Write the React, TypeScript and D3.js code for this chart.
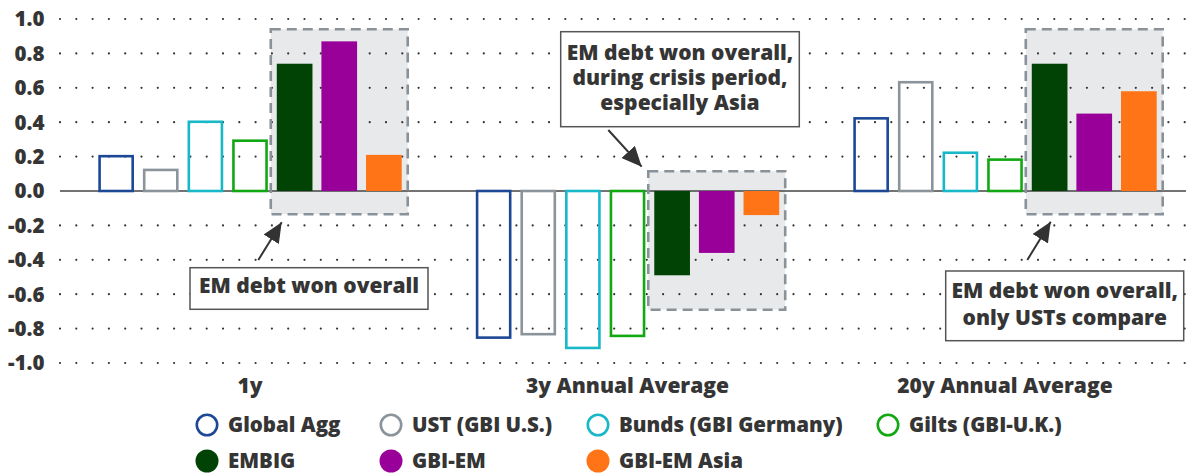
import * as d3 from "d3";

const categories = ["1y", "3y Annual Average", "20y Annual Average"];
const series = ["Global Agg", "UST (GBI U.S.)", "Bunds (GBI Germany)", "Gilts (GBI-U.K.)", "EMBIG", "GBI-EM", "GBI-EM Asia"];
const globalAgg = [0.21, -0.86, 0.43];
const ust = [0.13, -0.84, 0.64];
const bunds = [0.41, -0.92, 0.23];
const gilts = [0.3, -0.85, 0.19];
const embig = [0.74, -0.49, 0.74];
const gbiEm = [0.87, -0.36, 0.45];
const gbiEmAsia = [0.21, -0.14, 0.58];
const yTicks = [1.0, 0.8, 0.6, 0.4, 0.2, 0.0, -0.2, -0.4, -0.6, -0.8, -1.0];
// highlighted (dashed) boxes, in data units
const boxTop = [0.94, 0.115, 0.94];
const boxBottom = [-0.135, -0.69, -0.135];

const values = [globalAgg, ust, bunds, gilts, embig, gbiEm, gbiEmAsia];
const colors = ["#1c4896", "#8b949b", "#18b8c8", "#12a812", "#004305", "#990099", "#ff7416"];
const filled = [false, false, false, false, true, true, true];

const W = 1186;
const H = 476;
const FONT = "'Open Sans', 'Noto Sans', sans-serif";
const TXT = "#353535";

export default function App() {
  const y = d3.scaleLinear().domain([-1, 1]).range([363, 19]);
  const x = d3.scaleBand().domain(categories).range([61.25, 1193.75]).padding(0);
  const inner = d3.scaleBand().domain(series).range([0, x.bandwidth()]).paddingInner(0.2).paddingOuter(0.83);
  const bw = inner.bandwidth();
  const sw = 2.6;

  const annotations = [
    { box: [190, 267.7, 238, 41.6], lines: ["EM debt won overall"], base: [293.3], arrow: [258.3, 260, 281.7, 222.3] },
    { box: [560.7, 31.7, 238.6, 95], lines: ["EM debt won overall,", "during crisis period,", "especially Asia"], base: [60, 85, 110], arrow: [608.3, 130, 641.7, 166.7] },
    { box: [945.7, 271, 238, 69.7], lines: ["EM debt won overall,", "only USTs compare"], base: [298.3, 325], arrow: [1027.3, 260, 1050.7, 221.7] },
  ];

  const legendCols = [207, 391, 598, 888];
  const legendRows = [425, 461];

  return (
    <svg width={W} height={H} style={{ position: "absolute", left: 0, top: 0, background: "#fff" }} fontFamily={FONT}>
      <defs>
        <marker id="ah" viewBox="0 0 20 18" refX="20" refY="9" markerWidth="20" markerHeight="18" markerUnits="userSpaceOnUse" orient="auto">
          <path d="M0,0 L20,9 L0,18 Z" fill="#333" />
        </marker>
      </defs>

      {/* highlight boxes fill */}
      {categories.map((c, i) => {
        const x0 = x(c)! + inner("EMBIG")! - 6;
        const x1 = x(c)! + inner("GBI-EM Asia")! + bw + 6;
        return <rect key={"hb" + c} x={x0} y={y(boxTop[i])} width={x1 - x0} height={y(boxBottom[i]) - y(boxTop[i])} fill="#e8e9eb" />;
      })}

      {/* dotted grid */}
      {yTicks.filter((t) => t !== 0).map((t) => (
        <line key={"g" + t} x1={60} x2={W} y1={y(t)} y2={y(t)} stroke="#333" strokeWidth={2.2} strokeLinecap="round" strokeDasharray="0 16.3" />
      ))}

      {/* y labels */}
      {yTicks.map((t) => (
        <text key={"yl" + t} x={44.5} y={y(t)} dy="0.36em" textAnchor="end" fontSize={20.5} fontWeight={800} fill={TXT}>
          {t.toFixed(1)}
        </text>
      ))}

      {/* zero line */}
      <line x1={60} x2={W} y1={y(0)} y2={y(0)} stroke="#444" strokeWidth={1.5} />

      {/* bars */}
      {categories.map((c, ci) =>
        series.map((s, si) => {
          const v = values[si][ci];
          const bx = x(c)! + inner(s)!;
          const top = y(Math.max(0, v));
          const h = Math.abs(y(v) - y(0));
          if (filled[si]) {
            return <rect key={c + s} x={bx} y={top} width={bw} height={h} fill={colors[si]} />;
          }
          return (
            <rect key={c + s} x={bx + sw / 2} y={top + (v > 0 ? sw / 2 : 0)} width={bw - sw} height={h - sw / 2} fill="none" stroke={colors[si]} strokeWidth={sw} />
          );
        })
      )}

      {/* highlight box borders */}
      {categories.map((c, i) => {
        const x0 = x(c)! + inner("EMBIG")! - 6;
        const x1 = x(c)! + inner("GBI-EM Asia")! + bw + 6;
        return (
          <rect key={"hbb" + c} x={x0} y={y(boxTop[i])} width={x1 - x0} height={y(boxBottom[i]) - y(boxTop[i])} fill="none" stroke="#8a9299" strokeWidth={2.6} strokeDasharray="10 6" />
        );
      })}

      {/* annotations */}
      {annotations.map((a, i) => (
        <g key={"an" + i}>
          <line x1={a.arrow[0]} y1={a.arrow[1]} x2={a.arrow[2]} y2={a.arrow[3]} stroke="#333" strokeWidth={2} markerEnd="url(#ah)" />
          <rect x={a.box[0]} y={a.box[1]} width={a.box[2]} height={a.box[3]} fill="#fff" stroke="#555" strokeWidth={1.5} />
          {a.lines.map((l, li) => (
            <text key={li} x={a.box[0] + a.box[2] / 2} y={a.base[li]} textAnchor="middle" fontSize={21} fontWeight={800} fill={TXT}>
              {l}
            </text>
          ))}
        </g>
      ))}

      {/* category labels */}
      {categories.map((c) => (
        <text key={"cl" + c} x={x(c)! + x.bandwidth() / 2} y={393} textAnchor="middle" fontSize={21} fontWeight={800} fill={TXT}>
          {c}
        </text>
      ))}

      {/* legend */}
      {series.map((s, i) => {
        const col = i < 4 ? i : i - 4;
        const row = i < 4 ? 0 : 1;
        const cx = legendCols[col];
        const cy = legendRows[row];
        return (
          <g key={"lg" + s}>
            <circle cx={cx} cy={cy} r={filled[i] ? 11.5 : 10.2} fill={filled[i] ? colors[i] : "#fff"} stroke={filled[i] ? "none" : colors[i]} strokeWidth={2.6} />
            <text x={cx + 21} y={cy} dy="0.36em" fontSize={20.5} fontWeight={800} fill={TXT}>
              {s}
            </text>
          </g>
        );
      })}
    </svg>
  );
}
